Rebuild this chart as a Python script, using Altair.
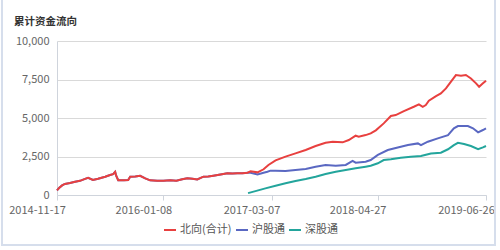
import altair as alt
import pandas as pd

# Series names in legend order
SERIES = ["北向(合计)", "沪股通", "深股通"]
COLORS = ["#e8403f", "#5a68c2", "#23a59c"]
TITLE = "累计资金流向"

# 北向(合计) cumulative net inflow (亿元)
north_dates = [
    "2014-11-17", "2014-11-25", "2014-12-07", "2014-12-18", "2015-01-07", "2015-01-27",
    "2015-02-15", "2015-03-07", "2015-03-19", "2015-04-07", "2015-04-27", "2015-05-25",
    "2015-06-13", "2015-06-25", "2015-07-03", "2015-07-07", "2015-07-15", "2015-08-07",
    "2015-08-23", "2015-08-31", "2015-09-20", "2015-10-09", "2015-10-29", "2015-11-17",
    "2015-12-15", "2016-01-08", "2016-02-04", "2016-02-28", "2016-03-22", "2016-04-11",
    "2016-05-01", "2016-05-20", "2016-06-13", "2016-07-02", "2016-07-22", "2016-08-19",
    "2016-09-15", "2016-10-05", "2016-10-24", "2016-11-13", "2016-12-03", "2016-12-15",
    "2017-01-11", "2017-02-04", "2017-02-23", "2017-03-23", "2017-05-01", "2017-06-09",
    "2017-07-19", "2017-08-27", "2017-10-05", "2017-11-02", "2017-11-21", "2017-12-11",
    "2018-01-04", "2018-01-31", "2018-02-12", "2018-03-11", "2018-03-31", "2018-04-20",
    "2018-05-21", "2018-06-18", "2018-07-07", "2018-08-08", "2018-09-16", "2018-10-06",
    "2018-10-21", "2018-11-02", "2018-11-14", "2018-12-12", "2018-12-31", "2019-01-20",
    "2019-02-08", "2019-02-28", "2019-03-20", "2019-04-08", "2019-04-28", "2019-05-18",
    "2019-05-30", "2019-06-14", "2019-06-26",
]
north_values = [
    300, 450, 620, 720, 780, 860,
    920, 1050, 1120, 980, 1050, 1190,
    1300, 1350, 1500, 1250, 960, 950,
    970, 1180, 1200, 1250, 1080, 950,
    920, 930, 950, 930, 1020, 1080,
    1060, 1010, 1190, 1200, 1250, 1330,
    1410, 1390, 1410, 1420, 1450, 1540,
    1470, 1670, 1950, 2250, 2490, 2700,
    2920, 3180, 3390, 3460, 3440, 3420,
    3570, 3850, 3790, 3890, 4000, 4200,
    4650, 5130, 5190, 5450, 5730, 5890,
    5730, 5840, 6120, 6420, 6600, 6920,
    7350, 7790, 7740, 7790, 7570, 7250,
    7030, 7250, 7420,
]

# 沪股通 cumulative net inflow (identical to 北向 until 深股通 opened)
sh_dates = north_dates[:41] + [
    "2016-12-15", "2017-01-11", "2017-02-04", "2017-02-19", "2017-03-03", "2017-03-23",
    "2017-05-01", "2017-06-09", "2017-07-19", "2017-08-27", "2017-10-05", "2017-11-14",
    "2017-12-23", "2018-01-19", "2018-01-31", "2018-03-11", "2018-03-31", "2018-04-28",
    "2018-06-06", "2018-07-15", "2018-08-24", "2018-10-02", "2018-10-14", "2018-11-10",
    "2018-12-19", "2019-01-28", "2019-02-20", "2019-03-08", "2019-04-16", "2019-05-06",
    "2019-05-26", "2019-06-14", "2019-06-26",
]
sh_values = north_values[:41] + [
    1450, 1340, 1450, 1510, 1580, 1580,
    1560, 1620, 1690, 1840, 1950, 1900,
    1950, 2210, 2100, 2160, 2270, 2600,
    2920, 3090, 3240, 3350, 3240, 3460,
    3680, 3890, 4330, 4480, 4480, 4330,
    4070, 4220, 4330,
]

# 深股通 cumulative net inflow
sz_dates = [
    "2016-12-05", "2017-01-03", "2017-02-11", "2017-03-23", "2017-05-01", "2017-06-09",
    "2017-07-19", "2017-08-27", "2017-10-05", "2017-11-14", "2017-12-23", "2018-01-31",
    "2018-03-11", "2018-03-31", "2018-04-28", "2018-05-21", "2018-06-18", "2018-07-27",
    "2018-09-04", "2018-10-14", "2018-11-22", "2018-12-31", "2019-01-28", "2019-02-20",
    "2019-03-08", "2019-04-01", "2019-04-28", "2019-05-26", "2019-06-14", "2019-06-26",
]
sz_values = [
    120, 250, 430, 600, 760, 910,
    1040, 1190, 1360, 1510, 1620, 1730,
    1840, 1900, 2060, 2270, 2320, 2420,
    2490, 2530, 2700, 2750, 2970, 3240,
    3390, 3310, 3180, 2970, 3090, 3180,
]

tick_dates = ["2014-11-17", "2016-01-08", "2017-03-07", "2018-04-27", "2019-06-26"]
y_ticks = [0, 2500, 5000, 7500, 10000]

frames = []
for name, dates, vals in [
    (SERIES[0], north_dates, north_values),
    (SERIES[1], sh_dates, sh_values),
    (SERIES[2], sz_dates, sz_values),
]:
    frames.append(pd.DataFrame({"date": dates, "value": vals, "series": name}))
df = pd.concat(frames, ignore_index=True)


def dt(s):
    y, m, d = (int(p) for p in s.split("-"))
    return alt.DateTime(year=y, month=m, date=d, utc=True)


FONT = "Noto Sans CJK SC"

x_enc = alt.X(
    "date:T",
    scale=alt.Scale(type="utc", domain=[dt(tick_dates[0]), dt(tick_dates[-1])]),
    axis=alt.Axis(
        values=[dt(t) for t in tick_dates],
        format="%Y-%m-%d",
        formatType="time",
        title=None,
        grid=False,
        domainColor="#cfd4dc",
        tickColor="#cfd4dc",
        tickSize=5,
        labelColor="#666666",
        labelFontSize=11,
        labelPadding=4,
        labelFlush=False,
        labelOffset=-20,
        labelOverlap=False,
    ),
)
y_enc = alt.Y(
    "value:Q",
    scale=alt.Scale(domain=[0, 10000], nice=False),
    axis=alt.Axis(
        values=y_ticks,
        format=",.0f",
        title=None,
        grid=True,
        gridColor="#d9d9d9",
        domainColor="#cfd4dc",
        ticks=False,
        labelColor="#666666",
        labelFontSize=11,
        labelPadding=8,
    ),
)
color_enc = alt.Color(
    "series:N",
    scale=alt.Scale(domain=SERIES, range=COLORS),
    legend=alt.Legend(
        title=None,
        orient="none",
        direction="horizontal",
        legendX=106,
        legendY=182,
        symbolType="stroke",
        symbolStrokeWidth=2,
        symbolSize=144,
        labelFontSize=11,
        labelColor="#555555",
        labelFont=FONT,
        columnPadding=0,
        symbolOffset=0,
        labelOffset=3,
    ),
)

base = alt.Chart(df).encode(x=x_enc, y=y_enc, color=color_enc)

# draw 北向 last so it sits on top of 沪股通 where they coincide
lines = [
    base.transform_filter(alt.datum.series == s).mark_line(strokeWidth=2, interpolate="linear")
    for s in [SERIES[1], SERIES[2], SERIES[0]]
]

one_row = pd.DataFrame({"label": [TITLE]})

frame = alt.Chart(one_row).mark_rect(
    fill=None, stroke="#d6deec", strokeWidth=2, clip=False
).encode(
    x=alt.value(-55), x2=alt.value(438), y=alt.value(-60), y2=alt.value(204)
)

title = alt.Chart(one_row).mark_text(
    align="left", baseline="middle", font=FONT, fontSize=10.5,
    fontWeight="bold", color="#333333", clip=False
).encode(
    text="label:N", x=alt.value(-43), y=alt.value(-19)
)

chart = alt.layer(*lines, frame, title).properties(
    width=429,
    height=154,
    padding={"left": 57, "top": 41, "right": 14, "bottom": 55},
    autosize=alt.AutoSizeParams(type="none"),
).configure_axis(
    labelFont=FONT
).configure_view(
    stroke=None
)

chart.save("out.html", embed_options={"renderer": "svg", "actions": False})
